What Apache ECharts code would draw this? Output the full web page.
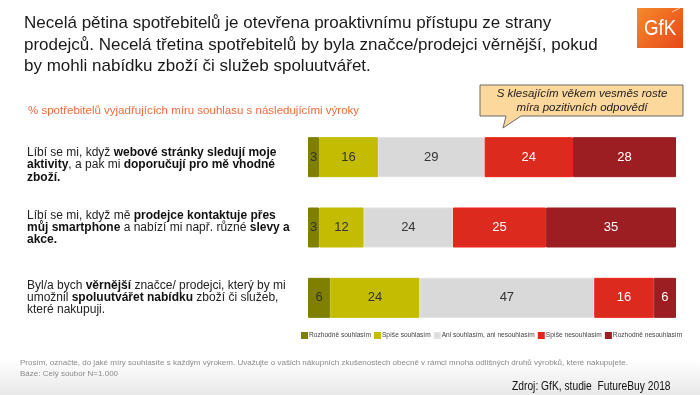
<!DOCTYPE html>
<html>
<head>
<meta charset="utf-8">
<script src="https://cdn.jsdelivr.net/npm/echarts@6/dist/echarts.min.js"></script>
<style>html,body{margin:0;padding:0;background:#fff}#c{width:700px;height:395px}</style>
</head>
<body>
<div id="c"></div>
<script>
// ---- data ----
var categories = [
  '{n|Líbí se mi, když }{b|webové stránky sledují moje}\n{b|aktivity}{n|, a pak mi }{b|doporučují pro mě vhodné}\n{b|zboží.}',
  '{n|Líbí se mi, když mě }{b|prodejce kontaktuje přes}\n{b|můj smartphone}{n| a nabízí mi např. různé }{b|slevy a}\n{b|akce.}',
  '{n|Byl/a bych }{b|věrnější}{n| značce/ prodejci, který by mi}\n{n|umožnil }{b|spoluutvářet nabídku}{n| zboží či služeb,}\n{n|které nakupuji.}'
];
var seriesNames = ['Rozhodně souhlasím', 'Spíše souhlasím', 'Ani souhlasím, ani nesouhlasím', 'Spíše nesouhlasím', 'Rozhodně nesouhlasím'];
var rozhodneSouhlasim   = [3, 3, 6];
var spiseSouhlasim      = [16, 12, 24];
var aniAni              = [29, 24, 47];
var spiseNesouhlasim    = [24, 25, 16];
var rozhodneNesouhlasim = [28, 35, 6];
var titleText = 'Necelá pětina spotřebitelů je otevřena proaktivnímu přístupu ze strany\nprodejců. Necelá třetina spotřebitelů by byla značce/prodejci věrnější, pokud\nby mohli nabídku zboží či služeb spoluutvářet.';
var subtitleText = '% spotřebitelů vyjadřujících míru souhlasu s následujícími výroky';
var calloutText = 'S klesajícím věkem vesměs roste\nmíra pozitivních odpovědí';
var footnote1 = 'Prosím, označte, do jaké míry souhlasíte s každým výrokem. Uvažujte o vašich nákupních zkušenostech obecně v rámci mnoha odlišných druhů výrobků, které nakupujete.';
var footnote2 = 'Báze: Celý soubor N=1.000';
var sourceText = 'Zdroj: GfK, studie  FutureBuy 2018';

// ---- build ----
var allSeries = [rozhodneSouhlasim, spiseSouhlasim, aniAni, spiseNesouhlasim, rozhodneNesouhlasim];
var rowTotals = categories.map(function (_, i) {
  return allSeries.reduce(function (s, arr) { return s + arr[i]; }, 0);
});
var colors = ['#7f7f00', '#c3bc00', '#d9d9d9', '#dc2a1e', '#9c1e23'];
var borderColors = ['#7f7f00', '#c3bc00', '#e2e2e2', '#f0201a', '#9c1e23'];
var labelColors = ['#333', '#333', '#333', '#fff', '#fff'];
var FONT = 'Liberation Sans, Arial, sans-serif';

var series = allSeries.map(function (arr, k) {
  return {
    name: seriesNames[k],
    type: 'bar',
    stack: 'total',
    barWidth: 40,
    itemStyle: { color: colors[k], borderColor: borderColors[k], borderWidth: 1 },
    label: {
      show: true,
      position: 'inside',
      color: labelColors[k],
      fontSize: 13,
      fontFamily: FONT,
      formatter: function (p) { return arr[p.dataIndex]; }
    },
    data: arr.map(function (v, i) { return v / rowTotals[i] * 100; })
  };
});

var chart = echarts.init(document.getElementById('c'), null, { renderer: 'canvas' });
chart.setOption({
  animation: false,
  textStyle: { fontFamily: FONT },
  title: [
    {
      text: titleText, left: 19, top: 8,
      textStyle: { fontSize: 17, fontWeight: 'normal', color: '#1a1a1a', lineHeight: 21.5, fontFamily: FONT }
    },
    {
      text: subtitleText, left: 23, top: 100,
      textStyle: { fontSize: 11.5, fontWeight: 'normal', color: '#f06a3c', fontFamily: FONT }
    }
  ],
  legend: {
    data: seriesNames,
    left: 301, top: 332, width: 420,
    padding: 0,
    itemWidth: 5, itemHeight: 5, itemGap: 3,
    icon: 'rect',
    textStyle: { fontSize: 6.6, color: '#444', padding: [0, 0, 0, -3] }
  },
  grid: { left: 308, right: 24, top: 122, height: 211, containLabel: false, outerBoundsMode: 'none' },
  xAxis: { type: 'value', min: 0, max: 100, show: false },
  yAxis: {
    type: 'category',
    inverse: true,
    data: categories.map(function (c, i) {
      return { value: c, textStyle: { align: 'left', padding: i === 0 ? [16, 0, 0, 0] : 0 } };
    }),
    axisLine: { show: false },
    axisTick: { show: false },
    axisLabel: {
      align: 'left',
      margin: 281,
      lineHeight: 12.3,
      hideOverlap: false,
      rich: {
        n: { fontSize: 12, color: '#222', lineHeight: 12.3, align: 'left', fontFamily: FONT },
        b: { fontSize: 12, color: '#111', fontWeight: 'bold', lineHeight: 12.3, align: 'left', fontFamily: FONT }
      }
    }
  },
  graphic: [
    {
      type: 'rect', left: 0, top: 360, z: -10, silent: true,
      shape: { width: 700, height: 35 },
      style: { fill: new echarts.graphic.LinearGradient(0, 0, 0, 1, [{ offset: 0, color: '#ffffff' }, { offset: 1, color: '#e8e8e8' }]) }
    },
    {
      type: 'rect', left: 637, top: 8, silent: true,
      shape: { width: 46, height: 40 },
      style: { fill: new echarts.graphic.LinearGradient(0, 0, 1, 1, [{ offset: 0, color: '#f58a2a' }, { offset: 1, color: '#e8471a' }]) }
    },
    {
      type: 'line', silent: true,
      shape: { x1: 672, y1: 12, x2: 680, y2: 8 },
      style: { stroke: 'rgba(255,255,255,0.7)', lineWidth: 1 }
    },
    {
      type: 'text', x: 660, y: 29, scaleX: 0.85, silent: true,
      style: { text: 'GfK', fontSize: 22, fill: '#fff', align: 'center', verticalAlign: 'middle', fontFamily: FONT }
    },
    {
      type: 'polygon', silent: true,
      shape: { points: [[480, 85], [683, 85], [683, 116], [521, 116], [503, 128], [506, 116], [480, 116]] },
      style: { fill: '#fcd89c', stroke: '#6a6a6a', lineWidth: 1 }
    },
    {
      type: 'text', x: 582, y: 101, silent: true,
      style: { text: calloutText, fontSize: 11.5, fontStyle: 'italic', fill: '#222', align: 'center', verticalAlign: 'middle', lineHeight: 14.5, fontFamily: FONT }
    },
    {
      type: 'text', x: 20, y: 363, silent: true,
      style: { text: footnote1, fontSize: 8, fill: '#8a8a8a', verticalAlign: 'middle', fontFamily: FONT }
    },
    {
      type: 'text', x: 20, y: 374, silent: true,
      style: { text: footnote2, fontSize: 8, fill: '#8a8a8a', verticalAlign: 'middle', fontFamily: FONT }
    },
    {
      type: 'text', x: 512, y: 386, scaleX: 0.76, silent: true,
      style: { text: sourceText, fontSize: 13.5, fill: '#111', verticalAlign: 'middle', fontFamily: FONT }
    }
  ],
  series: series
});
</script>
</body>
</html>
